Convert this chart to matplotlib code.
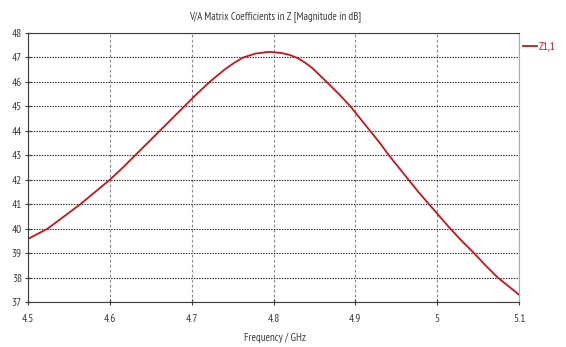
import matplotlib

matplotlib.use('Agg')

import matplotlib.pyplot as plt
from matplotlib import font_manager

# values
freq = [4.500, 4.524, 4.544, 4.564, 4.582, 4.600, 4.616, 4.631, 4.646, 4.661,
        4.676, 4.691, 4.706, 4.722, 4.740, 4.752, 4.763, 4.778, 4.795, 4.810,
        4.820, 4.829, 4.838, 4.848, 4.865, 4.880, 4.894, 4.906, 4.918, 4.930,
        4.941, 4.953, 4.965, 4.977, 4.990, 5.003, 5.016, 5.030, 5.045, 5.059,
        5.074, 5.087, 5.100]
z11 = [39.58, 40.0, 40.5, 41.0, 41.5, 42.0, 42.5, 43.0, 43.5, 44.0,
       44.5, 45.0, 45.5, 46.0, 46.5, 46.78, 47.0, 47.16, 47.23, 47.18,
       47.1, 46.98, 46.8, 46.55, 46.0, 45.5, 45.0, 44.5, 44.0, 43.5,
       43.0, 42.5, 42.0, 41.5, 41.0, 40.5, 40.0, 39.5, 39.0, 38.5,
       38.0, 37.65, 37.3]
xticks = [4.5, 4.6, 4.7, 4.8, 4.9, 5.0, 5.1]
xlabels = ['4.5', '4.6', '4.7', '4.8', '4.9', '5', '5.1']
yticks = list(range(37, 49))

# narrow font if one is around, else a smaller DejaVu
names = {f.name for f in font_manager.fontManager.ttflist}
fam, fs = 'DejaVu Sans', 6.3
for cand in ['Liberation Sans Narrow', 'PT Sans Narrow', 'Archivo Narrow',
             'Roboto Condensed', 'Open Sans Condensed', 'Fira Sans Condensed',
             'IBM Plex Sans Condensed', 'Asap Condensed']:
    if cand in names:
        fam, fs = cand, 7.8
        break
plt.rcParams['font.family'] = [fam, 'DejaVu Sans']

red = '#c8141e'
grey = '#3a3a3a'

fig = plt.figure(figsize=(5.66, 3.47), dpi=100)
ax = fig.add_axes([28 / 566, 1 - 302 / 347, 491 / 566, 269 / 347])

ax.plot(freq, z11, color=red, lw=1.3)

ax.set_xlim(4.5, 5.1)
ax.set_ylim(37, 48)
ax.set_xticks(xticks)
ax.set_xticklabels(xlabels)
ax.set_yticks(yticks)

ax.grid(axis='y', color='#222222', linestyle=(0, (1.2, 1.2)), lw=0.8)
ax.grid(axis='x', color='#888888', linestyle=(0, (2.5, 2)), lw=0.8)

ax.tick_params(labelsize=fs + 0.3, colors=grey, direction='inout', length=5, width=0.8)
ax.tick_params(axis='x', pad=6)
ax.tick_params(axis='y', pad=2)
for s in ['left', 'bottom', 'top']:
    ax.spines[s].set_color(grey)
ax.spines['right'].set_color('#aaaaaa')

fig.text(275 / 566, 1 - 17 / 347, 'V/A Matrix Coefficients in Z [Magnitude in dB]',
         ha='center', va='center', fontsize=fs, color=grey)
fig.text(275 / 566, 1 - 338 / 347, 'Frequency / GHz', ha='center', va='center',
         fontsize=fs, color=grey)

# legend drawn at the right of the plot
fig.lines.append(plt.Line2D([523 / 566, 537 / 566], [1 - 46 / 347, 1 - 46 / 347],
                            transform=fig.transFigure, color=red, lw=1.3))
fig.text(539 / 566, 1 - 46 / 347, 'Z1,1', ha='left', va='center', fontsize=fs, color=red)

fig.savefig('out.png', dpi=100)
